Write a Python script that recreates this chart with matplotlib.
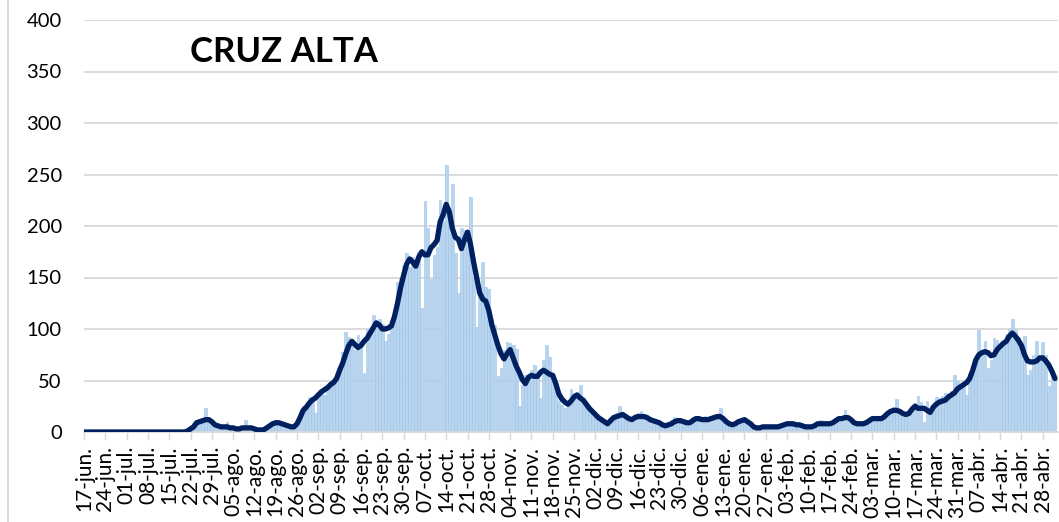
import numpy as np
import matplotlib
matplotlib.use("Agg")
import matplotlib.pyplot as plt
import matplotlib.transforms as mtransforms
from matplotlib.lines import Line2D

# ---------------------------
# Datos (17-jun-2020 a 02-may-2021, un valor por dia)
# ---------------------------
TITULO = "CRUZ ALTA"

casos_diarios = [
    0, 0, 0, 0, 0, 0, 0,
    0, 0, 0, 0, 0, 0, 0,
    0, 0, 0, 0, 0, 0, 0,
    0, 0, 0, 0, 0, 0, 0,
    0, 0, 0, 0, 0, 1, 2,
    3, 5, 7, 9, 12, 23, 13,
    8, 6, 4, 5, 3, 10, 4,
    3, 5, 2, 3, 12, 4, 3,
    2, 3, 1, 2, 4, 6, 9,
    10, 8, 11, 7, 6, 4, 5,
    9, 17, 25, 27, 34, 30, 18,
    38, 41, 36, 45, 50, 48, 52,
    60, 78, 97, 92, 90, 80, 94,
    86, 57, 100, 96, 114, 108, 110,
    105, 88, 95, 103, 118, 146, 150,
    162, 174, 160, 170, 165, 175, 120,
    224, 198, 149, 172, 180, 225, 205,
    259, 215, 241, 174, 135, 198, 196,
    182, 228, 150, 102, 138, 165, 141,
    139, 110, 104, 54, 62, 80, 87,
    86, 84, 81, 25, 46, 55, 50,
    60, 65, 58, 33, 70, 84, 73,
    55, 40, 30, 26, 23, 30, 42,
    38, 35, 46, 30, 23, 20, 18,
    15, 12, 10, 8, 9, 14, 16,
    18, 25, 16, 14, 12, 15, 17,
    18, 20, 16, 14, 12, 10, 9,
    8, 6, 5, 8, 12, 15, 12,
    10, 9, 8, 11, 15, 14, 12,
    13, 16, 14, 12, 15, 17, 23,
    12, 8, 6, 7, 9, 12, 10,
    11, 7, 4, 3, 4, 5, 6,
    4, 6, 5, 4, 6, 8, 9,
    11, 10, 8, 5, 6, 5, 4,
    6, 5, 7, 10, 12, 11, 8,
    7, 9, 14, 15, 13, 21, 16,
    10, 7, 8, 9, 7, 10, 12,
    14, 15, 12, 14, 18, 20, 22,
    24, 32, 18, 16, 15, 20, 25,
    28, 35, 29, 10, 30, 22, 27,
    34, 33, 35, 38, 36, 40, 55,
    50, 45, 48, 36, 57, 62, 72,
    99, 80, 88, 62, 70, 91, 89,
    80, 85, 95, 100, 110, 99, 92,
    78, 93, 55, 60, 75, 88, 72,
    87, 75, 45, 60, 52,
]

# media movil de 7 dias (linea azul oscuro)
media_movil = [
    0, 0, 0, 0, 0, 0, 0,
    0, 0, 0, 0, 0, 0, 0,
    0, 0, 0, 0, 0, 0, 0,
    0, 0, 0, 0, 0, 0, 0,
    0, 0, 0, 0, 0, 0, 1,
    3, 5, 9, 10, 11, 12, 12,
    10, 7, 6, 5, 5, 5, 4,
    4, 3, 3, 4, 4, 4, 4,
    3, 2, 2, 2, 4, 6, 8,
    9, 9, 8, 7, 6, 5, 5,
    8, 14, 21, 24, 28, 31, 33,
    36, 39, 41, 43, 46, 48, 52,
    60, 67, 76, 84, 88, 85, 82,
    84, 88, 91, 96, 101, 106, 104,
    100, 100, 101, 103, 112, 125, 140,
    152, 163, 168, 165, 161, 170, 175,
    172, 172, 179, 182, 186, 204, 211,
    221, 214, 198, 189, 187, 178, 187,
    194, 182, 165, 150, 135, 129, 127,
    118, 104, 94, 84, 76, 71, 76,
    80, 72, 64, 58, 51, 47, 53,
    55, 54, 54, 58, 60, 58, 56,
    55, 47, 37, 32, 29, 27, 30,
    34, 36, 33, 31, 27, 23, 20,
    17, 14, 12, 10, 8, 11, 14,
    15, 16, 17, 15, 13, 12, 14,
    15, 15, 15, 14, 12, 11, 10,
    9, 7, 6, 7, 8, 10, 11,
    11, 10, 9, 9, 11, 13, 13,
    12, 12, 12, 13, 14, 15, 15,
    13, 10, 8, 7, 8, 10, 11,
    12, 10, 8, 5, 4, 4, 5,
    5, 5, 5, 5, 5, 6, 7,
    8, 8, 8, 7, 7, 6, 5,
    5, 5, 6, 8, 8, 8, 8,
    8, 9, 11, 13, 13, 14, 14,
    12, 9, 8, 8, 8, 9, 11,
    13, 13, 13, 13, 15, 18, 20,
    21, 21, 20, 18, 17, 18, 22,
    25, 23, 23, 23, 21, 19, 24,
    27, 29, 30, 31, 34, 36, 38,
    42, 44, 46, 48, 52, 60, 70,
    75, 77, 78, 77, 74, 75, 80,
    83, 86, 88, 93, 96, 93, 89,
    84, 75, 69, 68, 68, 69, 72,
    72, 69, 65, 59, 52,
]

etiquetas = [
    "17-jun.", "24-jun.", "01-jul.", "08-jul.", "15-jul.", "22-jul.", "29-jul.",
    "05-ago.", "12-ago.", "19-ago.", "26-ago.", "02-sep.", "09-sep.", "16-sep.",
    "23-sep.", "30-sep.", "07-oct.", "14-oct.", "21-oct.", "28-oct.", "04-nov.",
    "11-nov.", "18-nov.", "25-nov.", "02-dic.", "09-dic.", "16-dic.", "23-dic.",
    "30-dic.", "06-ene.", "13-ene.", "20-ene.", "27-ene.", "03-feb.", "10-feb.",
    "17-feb.", "24-feb.", "03-mar.", "10-mar.", "17-mar.", "24-mar.", "31-mar.",
    "07-abr.", "14-abr.", "21-abr.", "28-abr.",
]

plt.rcParams["font.family"] = ["Lato", "DejaVu Sans"]

dias = np.arange(len(casos_diarios))

fig = plt.figure(figsize=(10.59, 5.22), dpi=100)
ax = fig.add_axes([84 / 1059, 90 / 522, 974 / 1059, 412 / 522])

ax.bar(dias, casos_diarios, width=0.9, color="#B9D4EE", edgecolor="#9DC3E6",
       linewidth=0.4, zorder=2)
ax.plot(dias, media_movil, color="#002060", linewidth=3.8, solid_capstyle="round",
        solid_joinstyle="round", zorder=3)

ax.set_xlim(0, 320)
ax.set_ylim(0, 400)
ax.set_yticks(np.arange(0, 401, 50))
ax.yaxis.grid(True, color="#D9D9D9", linewidth=1.3, zorder=0)
ax.set_axisbelow(True)

ax.set_xticks(np.arange(0, len(etiquetas) * 7, 7))
ax.set_xticklabels(etiquetas, rotation=90, fontsize=15, color="#000000")
offset = mtransforms.ScaledTranslation(6 / 100, 0, fig.dpi_scale_trans)
for lbl in ax.get_xticklabels():
    lbl.set_transform(lbl.get_transform() + offset)

ax.tick_params(axis="x", length=6, width=1, color="#D9D9D9", pad=4)
ax.tick_params(axis="y", length=0, labelsize=14.5, pad=16)

for s in ["top", "right", "left"]:
    ax.spines[s].set_visible(False)
ax.spines["bottom"].set_color("#D9D9D9")
ax.spines["bottom"].set_linewidth(1.3)

fig.text(190 / 1059, 1 - 52 / 522, TITULO, fontsize=25, fontweight="bold",
         va="center", ha="left")

# borde izquierdo del area del grafico
fig.add_artist(Line2D([7.5 / 1059, 7.5 / 1059], [0, 1], color="#D9D9D9",
                      linewidth=1.3, transform=fig.transFigure))

fig.savefig("out.png", dpi=100)
